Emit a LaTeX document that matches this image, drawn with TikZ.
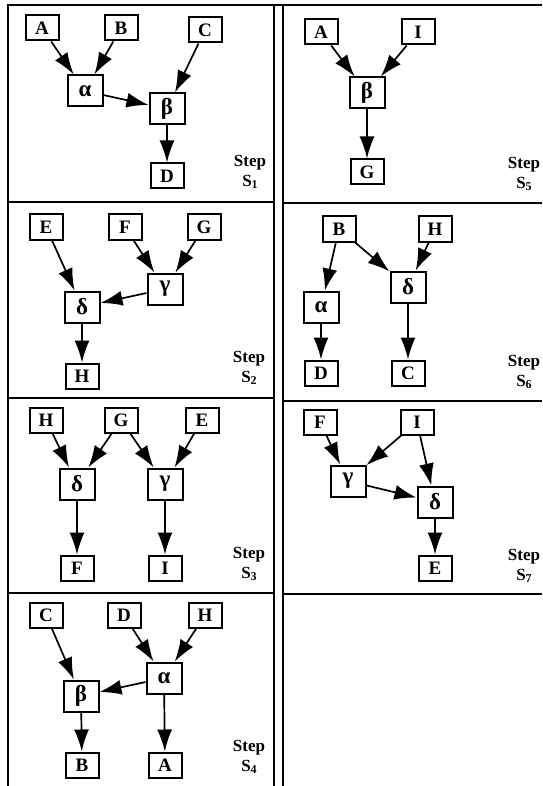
\documentclass[tikz,border=0pt]{standalone}
\usepackage{fontspec}
\setmainfont{Liberation Serif}
\usetikzlibrary{arrows.meta}
\tikzset{
  lbox/.style={draw, line width=2pt, minimum width=33pt, minimum height=25pt, inner sep=0pt,
    font=\fontsize{19}{21}\selectfont\bfseries},
  gbox/.style={lbox, minimum width=35pt, minimum height=31pt, font=\fontsize{23}{25}\selectfont\bfseries},
  arr/.style={-{Latex[length=22pt,width=15pt]}, line width=1.7pt},
  frame/.style={line width=2.2pt},
  steplbl/.style={font=\fontsize{17}{20}\selectfont\bfseries, align=center, inner sep=0pt}
}
\newcommand{\stp}[1]{Step\\S\raisebox{-0.3ex}{\fontsize{12}{12}\selectfont #1}}
\begin{document}
\begin{tikzpicture}[x=1pt,y=-1pt]
\useasboundingbox (0,0) rectangle (542,786);
% frame
\draw[frame] (8,786) -- (8,5) -- (542,5);
\draw[frame] (274,5) -- (274,786);
\draw[frame] (283,5) -- (283,786);
\draw[frame] (8,202) -- (274,202);
\draw[frame] (8,398) -- (274,398);
\draw[frame] (8,593) -- (274,593);
\draw[frame] (283,203) -- (542,203);
\draw[frame] (283,401) -- (542,401);
\draw[frame] (283,594) -- (542,594);

% Step S1
\node[lbox] (a1) at (42,28) {A};
\node[lbox] (b1) at (121,28) {B};
\node[lbox] (c1) at (205,30) {C};
\node[gbox] (al1) at (85,91) {α};
\node[gbox] (be1) at (167,109) {β};
\node[lbox] (d1) at (167,176) {D};
\node[steplbl] (s1) at (250,172) {\stp{1}};
\draw[arr] (a1) -- (al1);
\draw[arr] (b1) -- (al1);
\draw[arr] (al1) -- (be1);
\draw[arr] (c1) -- (be1);
\draw[arr] (be1) -- (d1);

% Step S5
\node[lbox] (a5) at (321,32) {A};
\node[lbox] (i5) at (418,32) {I};
\node[gbox] (be5) at (367,93) {β};
\node[lbox] (g5) at (367,172) {G};
\node[steplbl] (s5) at (524,174) {\stp{5}};
\draw[arr] (a5) -- (be5);
\draw[arr] (i5) -- (be5);
\draw[arr] (be5) -- (g5);

% Step S2
\node[lbox] (e2) at (46,227) {E};
\node[lbox] (f2) at (125,227) {F};
\node[lbox] (g2) at (204,227) {G};
\node[gbox] (ga2) at (165,289) {γ};
\node[gbox] (de2) at (82,307) {δ};
\node[lbox] (h2) at (82,376) {H};
\node[steplbl] (s2) at (249,368) {\stp{2}};
\draw[arr] (e2) -- (de2);
\draw[arr] (f2) -- (ga2);
\draw[arr] (g2) -- (ga2);
\draw[arr] (ga2) -- (de2);
\draw[arr] (de2) -- (h2);

% Step S6
\node[lbox] (b6) at (339,229) {B};
\node[lbox] (h6) at (435,229) {H};
\node[gbox] (al6) at (321,307) {α};
\node[gbox] (de6) at (408,287) {δ};
\node[lbox] (d6) at (321,373) {D};
\node[lbox] (c6) at (408,373) {C};
\node[steplbl] (s6) at (524,372) {\stp{6}};
\draw[arr] (b6) -- (al6);
\draw[arr] (b6) -- (de6);
\draw[arr] (h6) -- (de6);
\draw[arr] (al6) -- (d6);
\draw[arr] (de6) -- (c6);

% Step S3
\node[lbox] (h3) at (46,420) {H};
\node[lbox] (g3) at (121,420) {G};
\node[lbox] (e3) at (202,420) {E};
\node[gbox] (de3) at (77,484) {δ};
\node[gbox] (ga3) at (165,484) {γ};
\node[lbox] (f3) at (77,568) {F};
\node[lbox] (i3) at (165,568) {I};
\node[steplbl] (s3) at (249,564) {\stp{3}};
\draw[arr] (h3) -- (de3);
\draw[arr] (g3) -- (de3);
\draw[arr] (g3) -- (ga3);
\draw[arr] (e3) -- (ga3);
\draw[arr] (de3) -- (f3);
\draw[arr] (ga3) -- (i3);

% Step S7
\node[lbox] (f7) at (320,422) {F};
\node[lbox] (i7) at (417,422) {I};
\node[gbox] (ga7) at (348,481) {γ};
\node[gbox] (de7) at (435,502) {δ};
\node[lbox] (e7) at (435,568) {E};
\node[steplbl] (s7) at (524,566) {\stp{7}};
\draw[arr] (f7) -- (ga7);
\draw[arr] (i7) -- (ga7);
\draw[arr] (i7) -- (de7);
\draw[arr] (ga7) -- (de7);
\draw[arr] (de7) -- (e7);

% Step S4
\node[lbox] (c4) at (46,615) {C};
\node[lbox] (d4) at (124,615) {D};
\node[lbox] (h4) at (205,615) {H};
\node[gbox] (al4) at (164,678) {α};
\node[gbox] (be4) at (81,696) {β};
\node[lbox] (b4) at (82,765) {B};
\node[lbox] (a4) at (165,765) {A};
\node[steplbl] (s4) at (249,757) {\stp{4}};
\draw[arr] (c4) -- (be4);
\draw[arr] (d4) -- (al4);
\draw[arr] (h4) -- (al4);
\draw[arr] (al4) -- (be4);
\draw[arr] (be4) -- (b4);
\draw[arr] (al4) -- (a4);
\end{tikzpicture}
\end{document}
